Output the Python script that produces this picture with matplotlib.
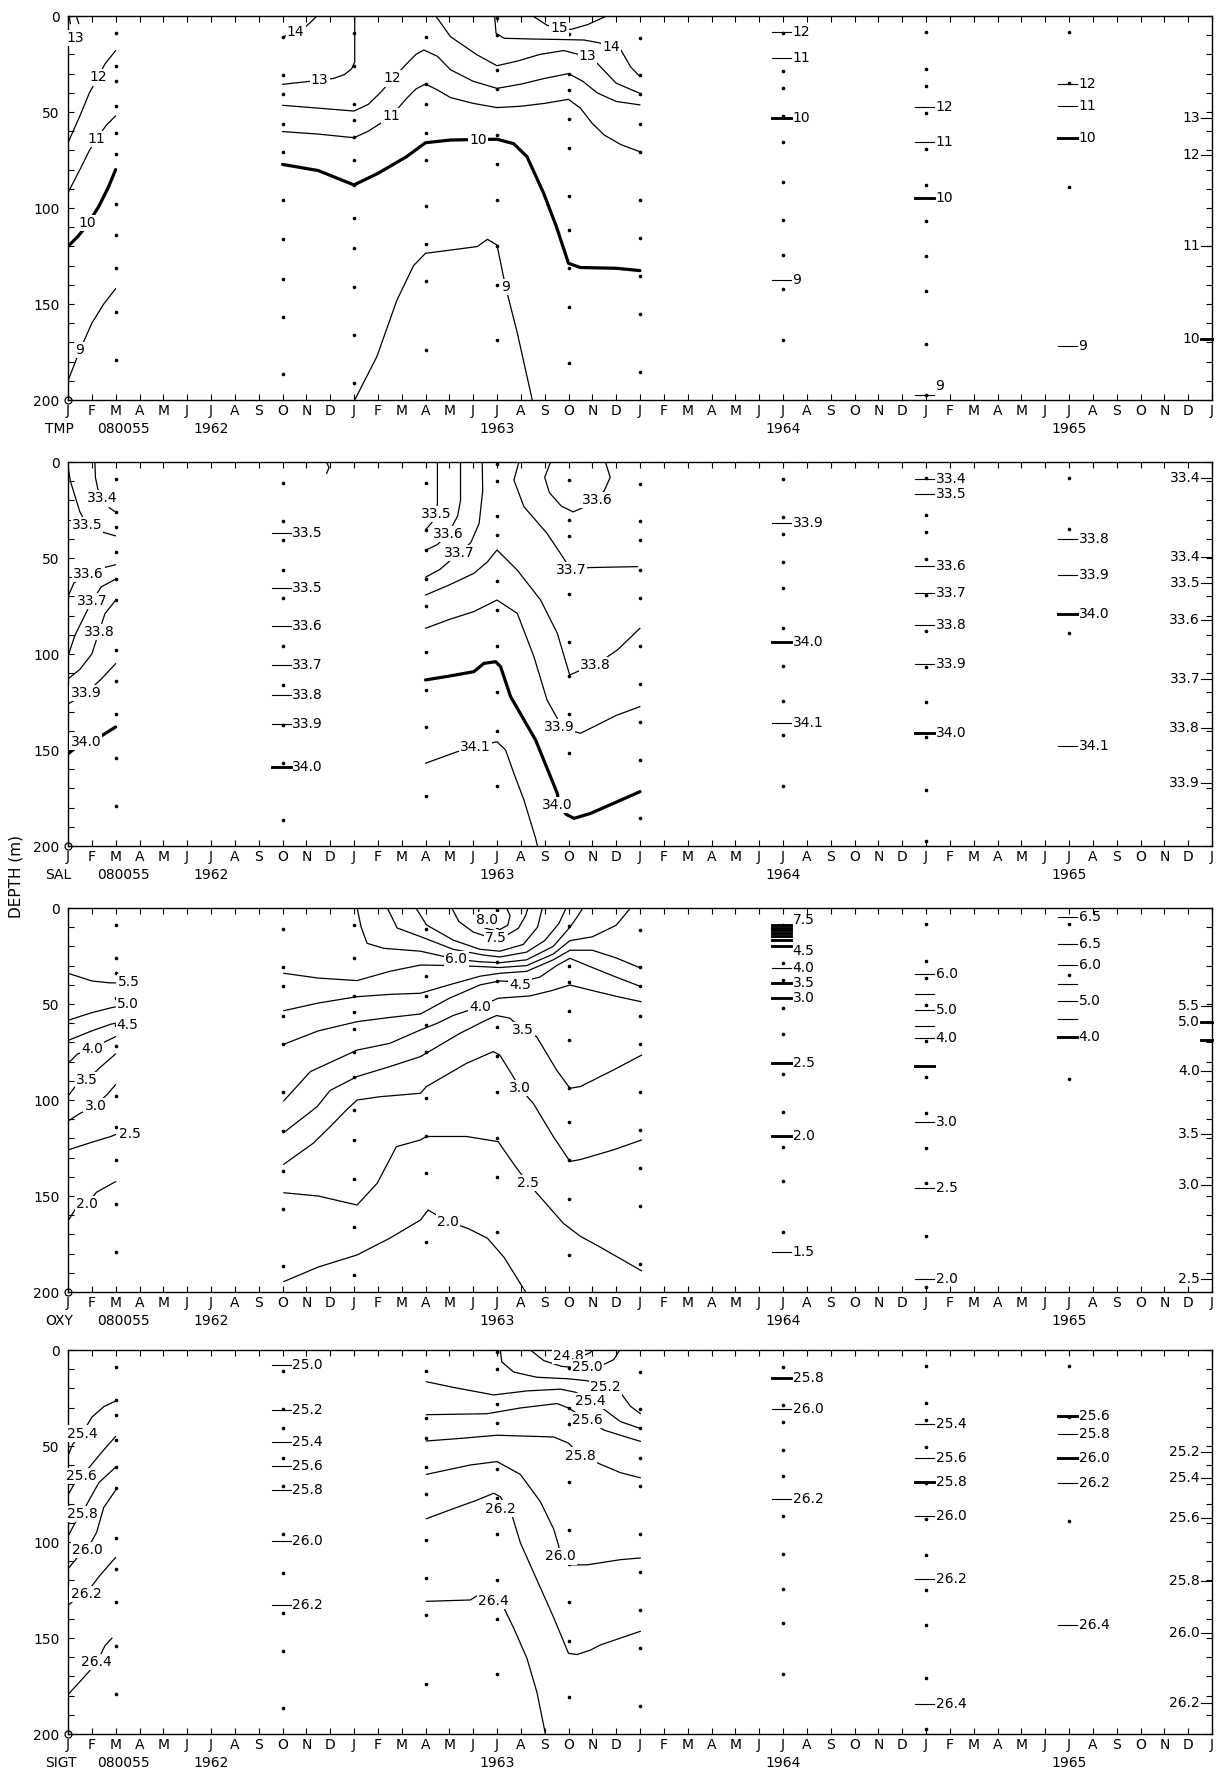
import matplotlib
matplotlib.use("Agg")
import matplotlib.pyplot as plt
from matplotlib.transforms import blended_transform_factory

plt.rcParams['font.family'] = ['DejaVu Sans']

# ---------------- axis text ----------------
MONTH_LETTERS = list("JFMAMJJASOND") * 4 + ["J"]
YEAR_LABELS = ["1962", "1963", "1964", "1965"]
YEAR_MONTHS = [6, 18, 30, 42]
PANEL_CODES = ["TMP", "SAL", "OXY", "SIGT"]
STATION_ID = "080055"
DEPTH_TICKS = [0, 50, 100, 150, 200]

# ---------------- sample points (month index, depths) ----------------
DOTS_C2 = [9, 26, 34, 47, 61, 72, 98, 114, 131, 154, 179]
DOTS_C9 = [11, 30.5, 40.7, 56, 71, 96, 116, 137, 156.6, 186.6]
DOTS_C12 = [9, 26, 46, 54, 63, 75, 88, 105, 121, 141, 166, 191]
DOTS_C15 = [10.8, 35.4, 45.8, 60.8, 75, 98.8, 118.8, 137.9, 174]
DOTS_C18 = [1, 10, 28, 38, 62, 77, 96, 120, 140, 169]
DOTS_C21 = [9.5, 30, 38.5, 53.6, 69, 94, 111.5, 131.4, 151.4, 180.6]
DOTS_C24 = [11.3, 30.7, 40.6, 56, 70.7, 95.8, 115.5, 135.4, 155.4, 185.3]
DOTS_C30 = [9, 28.5, 37.7, 52, 65.5, 86.6, 106, 124.6, 142, 169]
DOTS_C36 = [8.5, 27.6, 36.5, 50.3, 69.3, 88.2, 107, 125, 143, 171, 197.4]
DOTS_C42 = [8.2, 35, 89]

DOTS_FULL = [(2, DOTS_C2), (9, DOTS_C9), (12, DOTS_C12), (15, DOTS_C15), (18, DOTS_C18),
             (21, DOTS_C21), (24, DOTS_C24), (30, DOTS_C30), (36, DOTS_C36), (42, DOTS_C42)]
DOTS_NO_JAN63 = [c for c in DOTS_FULL if c[0] != 12]

# ---------------- TMP contour vertices (month, depth) ----------------
TMP_L14 = [(0.05, 0), (0.1, 4)]
TMP_L13 = [(0.35, 0), (0.45, 4)]
TMP_L12 = [(0, 66), (0.5, 52), (0.9, 40), (1.25, 32), (1.55, 25), (2.0, 18)]
TMP_L11 = [(0, 92), (0.5, 80), (0.9, 70), (1.2, 64), (1.6, 57), (2.0, 52)]
TMP_L10 = [(0, 120), (0.4, 115), (0.8, 109), (1.3, 99), (1.7, 89), (2.0, 80)]
TMP_L9 = [(0, 190), (0.5, 174), (1.0, 160), (1.5, 150), (2.0, 142)]
TMP_14A = [(9.0, 11), (9.5, 8.5), (9.9, 6.4), (10.2, 3), (10.45, 0)]
TMP_13A = [(9.0, 35.6), (9.8, 34.5), (10.56, 33.5), (11.15, 32.5), (11.6, 30.5),
           (11.9, 27.5), (12.03, 24), (12.03, 0)]
TMP_13B = [(15.43, 0), (16.05, 10.8), (17.17, 20.3), (18.0, 25.9), (18.85, 23.5),
           (19.8, 20), (20.8, 18), (21.8, 21.2), (22.2, 24.6), (23.0, 35), (24.0, 40.3)]
TMP_12 = [(9.0, 46.5), (10.5, 48), (12.0, 49.5), (12.6, 46), (13.1, 40), (13.6, 33),
          (14.2, 25), (14.6, 20), (14.93, 17.7), (15.5, 21), (16.05, 28), (17.0, 34),
          (18.0, 37.7), (19.0, 35.5), (20.0, 32.5), (21.0, 30), (21.6, 34), (22.2, 40),
          (23.0, 44.5), (24.0, 46.3)]
TMP_11 = [(9.0, 60.2), (10.5, 61.5), (12.0, 63.4), (12.6, 60), (13.1, 56), (13.57, 52),
          (14.2, 43), (14.6, 38), (15.0, 35.4), (15.5, 38.5), (16.05, 42.5), (17.0, 45.5),
          (18.0, 47.7), (19.0, 47), (20.0, 45.5), (21.0, 43.4), (21.5, 48), (22.0, 56),
          (22.5, 62), (23.2, 67), (24.0, 70.7)]
TMP_10 = [(9.0, 77.3), (10.5, 80.5), (12.0, 88), (13.0, 82), (14.2, 73.3), (15.0, 66),
          (16.05, 64.6), (17.2, 64.3), (18.0, 64.2), (18.7, 66.5), (19.26, 73.3),
          (19.96, 92.4), (20.5, 110), (21.0, 128.8), (21.5, 131), (23.0, 131.4), (24.0, 132.6)]
TMP_9 = [(12.03, 200), (12.96, 177.4), (13.8, 148), (14.5, 130), (15.0, 123.6), (16.05, 121.9),
         (17.17, 120.1), (17.6, 116.3), (18.0, 119.3), (18.36, 141), (18.85, 165), (19.48, 200)]
TMP_14B = [(17.9, 0), (17.96, 9), (18.3, 11.6), (19.5, 12), (20.5, 12.2), (21.65, 12.5),
           (22.3, 14), (22.8, 16), (23.2, 17.7), (23.6, 26.4), (24.0, 31.6)]
TMP_15 = [(19.5, 0), (20.1, 4.8), (20.6, 6.4), (21.1, 7), (21.8, 4.5), (22.6, 0)]

TMP_LINES = [(TMP_L14, 1), (TMP_L13, 1), (TMP_L12, 1), (TMP_L11, 1), (TMP_L10, 2), (TMP_L9, 1),
             (TMP_14A, 1), (TMP_13A, 1), (TMP_13B, 1), (TMP_12, 1), (TMP_11, 1), (TMP_10, 2),
             (TMP_9, 1), (TMP_14B, 1), (TMP_15, 1)]
TMP_LABELS = [(0.3, 11.5, "13"), (1.25, 32, "12"), (1.2, 64, "11"), (0.8, 108, "10"),
              (0.5, 174, "9"), (9.55, 8.5, "14"), (10.56, 33.5, "13"), (21.8, 21, "13"),
              (13.6, 32.5, "12"), (13.57, 52, "11"), (17.2, 64.5, "10"), (18.36, 141, "9"),
              (22.8, 16, "14"), (20.6, 6.4, "15")]
TMP_COL = [(30, 8.2, "12", 1), (30, 22, "11", 1), (30, 53.3, "10", 2), (30, 137.5, "9", 1),
           (36, 47.6, "12", 1), (36, 65.8, "11", 1), (36, 94.6, "10", 2), (36, 197.4, "", 1),
           (36, 192.5, "9", 0),
           (42, 35.6, "12", 1), (42, 46.9, "11", 1), (42, 63.7, "10", 2), (42, 171.7, "9", 1)]
TMP_RIGHT = [(53.3, "13", 1), (72.4, "12", 1), (120, "11", 1), (168.4, "10", 2)]

# ---------------- SAL contour vertices ----------------
SAL_L334 = [(1.13, 0), (1.15, 8), (1.25, 14), (1.45, 19), (1.75, 24), (2.0, 26)]
SAL_L335 = [(0.0, 2), (0.1, 10), (0.3, 18), (0.5, 26), (0.8, 33), (1.3, 36), (2.0, 38.5)]
SAL_L336 = [(0, 70), (0.25, 63), (0.85, 58.5), (1.35, 55.5), (2.0, 53.5)]
SAL_L337 = [(0, 101), (0.3, 90), (0.7, 80), (1.0, 72.5), (1.4, 65), (2.0, 61)]
SAL_L338 = [(0, 113), (0.5, 108), (1.0, 100), (1.3, 88.5), (1.55, 79), (2.0, 72)]
SAL_L339 = [(0, 126), (0.3, 124), (0.75, 120.5), (1.4, 113), (2.0, 105)]
SAL_L340 = [(0, 152), (0.4, 148), (0.75, 146), (1.1, 145), (2.0, 138)]
SAL_335 = [(15.5, 0), (15.5, 21.5), (15.45, 27), (15.3, 31), (15.0, 35.4)]
SAL_336 = [(16.47, 0), (16.47, 20), (16.35, 28), (15.95, 37.5), (15.5, 43), (15.0, 46)]
SAL_337A = [(17.38, 0), (17.4, 15), (17.25, 32), (16.9, 42), (16.4, 47.5), (15.6, 56), (15.0, 60)]
SAL_337B = [(18.92, 0), (18.71, 9.4), (19.13, 23.3), (20.1, 37.2), (20.8, 50.2), (21.1, 56.3),
            (21.86, 55), (23.0, 54.7), (23.9, 54.5)]
SAL_338 = [(15.0, 69.3), (16.0, 64), (17.03, 58), (17.6, 52), (18.0, 45.8), (18.85, 56.3),
           (19.83, 71.9), (20.53, 89.2), (21.05, 110.9), (21.6, 108), (22.14, 105.7),
           (23.05, 97.9), (24.0, 86.6)]
SAL_339 = [(15.0, 86.6), (16.0, 82), (17.03, 77.9), (18.0, 71.9), (18.85, 78.8), (19.55, 101.4),
           (20.1, 124), (20.53, 133.5), (20.6, 138.2), (21.5, 141.3), (22.2, 137), (23.0, 132),
           (24.0, 127.4)]
SAL_340 = [(15.0, 113.5), (16.0, 111.5), (17.03, 109.2), (17.45, 104.9), (17.94, 104),
           (18.15, 106.6), (18.57, 122.2), (19.62, 144.8), (20.53, 172.6), (20.6, 178.6),
           (20.9, 183.5), (21.23, 185.6), (21.93, 183), (24.0, 171.7)]
SAL_341 = [(15.0, 156.9), (16.33, 150.9), (17.1, 148.3), (18.0, 145.7), (18.36, 150),
           (18.71, 162.2), (19.13, 176), (19.62, 196), (19.7, 200)]
SAL_336B = [(20.25, 0), (20.0, 8), (20.2, 16), (20.7, 23), (21.2, 26), (22.0, 21.5),
            (22.5, 15), (22.75, 8), (22.55, 0)]
SAL_TOP = [(10.85, 0), (10.95, 3), (10.85, 6)]

SAL_LINES = [(SAL_L334, 1), (SAL_L335, 1), (SAL_L336, 1), (SAL_L337, 1), (SAL_L338, 1),
             (SAL_L339, 1), (SAL_L340, 2), (SAL_335, 1), (SAL_336, 1), (SAL_337A, 1),
             (SAL_337B, 1), (SAL_338, 1), (SAL_339, 1), (SAL_340, 2), (SAL_341, 1),
             (SAL_336B, 1), (SAL_TOP, 1)]
SAL_LABELS = [(1.45, 19, "33.4"), (0.8, 33, "33.5"), (0.85, 58.5, "33.6"), (1.0, 72.5, "33.7"),
              (1.3, 88.5, "33.8"), (0.75, 120.5, "33.9"), (0.75, 146, "34.0"),
              (15.45, 27, "33.5"), (15.95, 37.5, "33.6"), (16.4, 47.5, "33.7"),
              (21.1, 56.3, "33.7"), (22.14, 105.7, "33.8"), (20.6, 138.2, "33.9"),
              (20.53, 178.6, "34.0"), (17.1, 148.3, "34.1"), (22.2, 19.8, "33.6")]
SAL_COL = [(9, 36.8, "33.5", 1), (9, 65.5, "33.5", 1), (9, 85.4, "33.6", 1), (9, 105.7, "33.7", 1),
           (9, 121.4, "33.8", 1), (9, 136.5, "33.9", 1), (9, 158.7, "34.0", 2),
           (30, 31.6, "33.9", 1), (30, 93.6, "34.0", 2), (30, 135.8, "34.1", 1),
           (36, 9, "33.4", 1), (36, 16.7, "33.5", 1), (36, 54.2, "33.6", 1), (36, 68.4, "33.7", 1),
           (36, 84.9, "33.8", 1), (36, 105.2, "33.9", 1), (36, 141.3, "34.0", 2),
           (42, 40.3, "33.8", 1), (42, 58.9, "33.9", 1), (42, 79.2, "34.0", 2), (42, 147.9, "34.1", 1)]
SAL_RIGHT = [(8.5, "33.4", 1), (49.3, "33.4", 1), (63.2, "33.5", 1), (82.3, "33.6", 1),
             (113.2, "33.7", 1), (138.7, "33.8", 1), (167.4, "33.9", 1)]

# ---------------- OXY contour vertices ----------------
OXY_L55 = [(0, 34), (0.5, 36), (1.0, 38), (1.75, 39), (2.0, 39)]
OXY_L50 = [(0, 58.5), (0.5, 56.5), (1.0, 54.5), (1.8, 52), (2.0, 51.5)]
OXY_L45 = [(0, 69), (0.5, 66.5), (1.0, 64), (1.8, 60.5), (2.0, 60)]
OXY_L40 = [(0, 81), (0.4, 76), (1.0, 73.5), (1.5, 70), (2.0, 67)]
OXY_L35 = [(0, 98), (0.3, 93), (0.8, 89.5), (1.35, 83), (2.0, 76)]
OXY_L30 = [(0, 111), (0.5, 107), (1.15, 103), (1.65, 97), (2.0, 92)]
OXY_L25 = [(0, 126), (0.5, 124), (1.0, 122), (1.8, 119), (2.0, 118)]
OXY_L20 = [(0, 163), (0.3, 157), (0.8, 154), (1.2, 148), (2.0, 142.5)]
OXY_80 = [(17.25, 0), (17.2, 5), (17.5, 10.5), (18.0, 12), (18.45, 9), (18.55, 4), (18.4, 0)]
OXY_75 = [(16.1, 0), (16.4, 7), (17.0, 12.5), (17.6, 15), (18.3, 15), (18.9, 10.5), (19.2, 4), (19.3, 0)]
OXY_70 = [(14.6, 0), (15.04, 8.8), (16.16, 16.7), (17.28, 21.5), (18.12, 22.5), (19.1, 19),
          (19.7, 10), (19.9, 0)]
OXY_65 = [(13.4, 0), (13.81, 10.4), (14.79, 14.9), (16.16, 21.5), (17.42, 24.5), (18.12, 25.5),
          (19.24, 23), (20.0, 17), (20.6, 8), (20.9, 0)]
OXY_60 = [(12.13, 0), (12.3, 10), (12.55, 18.4), (13.25, 21), (14.79, 22.5), (16.3, 26.7),
          (17.28, 28), (18.12, 28.5), (19.24, 27), (20.36, 20), (21.06, 10), (21.4, 4), (21.6, 0)]
OXY_55 = [(9.05, 34), (10.5, 36.5), (12.13, 37.8), (13.5, 33), (14.79, 29.7), (16.3, 30),
          (17.3, 30.5), (18.12, 31), (19.24, 30), (20.36, 24), (21.06, 17), (22.0, 15),
          (23.0, 9), (23.6, 0)]
OXY_50 = [(9.05, 53.5), (10.5, 49.5), (12.13, 46.2), (13.5, 45), (14.79, 44.4), (16.0, 40),
          (17.3, 35.5), (18.12, 34), (19.24, 33), (20.36, 27), (21.06, 22), (22.0, 22),
          (23.0, 26), (24.05, 31.4)]
OXY_45 = [(9.05, 71), (10.5, 64), (12.13, 59.2), (13.5, 57), (14.79, 55.2), (16.0, 47),
          (17.3, 40), (18.12, 38), (18.96, 38.5), (19.8, 36), (20.5, 30), (21.06, 26.2),
          (22.0, 31), (23.0, 36), (24.05, 41)]
OXY_40 = [(9.05, 100.5), (10.17, 85.2), (12.13, 74), (13.5, 70.5), (14.79, 63.5), (15.5, 60),
          (16.16, 56), (17.28, 51.4), (18.05, 47), (19.38, 45.8), (20.3, 43), (21.06, 40.1),
          (22.0, 43), (23.0, 46), (24.05, 48.8)]
OXY_35 = [(9.05, 117), (10.45, 103.5), (11.0, 95), (12.13, 87.8), (13.5, 82.6), (14.79, 77.4),
          (16.44, 65.3), (17.56, 58.3), (17.98, 56), (18.54, 57.4), (19.1, 63.5), (19.66, 67),
          (20.5, 84.4), (21.06, 93.9), (21.5, 93), (22.88, 84.4), (24.07, 76.6)]
OXY_30 = [(9.05, 133.5), (10.28, 122.6), (11.0, 113.9), (11.68, 105.2), (12.13, 100),
          (13.08, 98.3), (14.79, 96.5), (15.04, 93), (16.72, 80.9), (17.84, 74.8), (18.12, 76.6),
          (18.68, 87.8), (18.96, 93.9), (19.52, 101.7), (20.36, 119), (21.06, 132), (21.5, 131),
          (22.88, 126), (24.07, 120.8)]
OXY_25 = [(9.05, 148.3), (10.5, 150), (12.13, 154.7), (12.97, 143.4), (13.78, 124.3),
          (14.79, 120.8), (15.04, 119), (16.72, 119), (18.05, 121.7), (18.68, 133), (19.3, 143.4),
          (19.8, 150.3), (20.78, 164.2), (21.5, 171), (22.3, 176.4), (24.07, 189)]
OXY_20 = [(9.05, 194.6), (10.5, 187), (12.13, 180.7), (13.5, 172), (14.79, 162.5), (15.11, 157.3),
          (15.95, 163.4), (16.8, 167), (17.6, 172), (18.3, 182), (19.1, 198), (19.2, 200)]

OXY_LINES = [(OXY_L55, 1), (OXY_L50, 1), (OXY_L45, 1), (OXY_L40, 1), (OXY_L35, 1), (OXY_L30, 1),
             (OXY_L25, 1), (OXY_L20, 1), (OXY_80, 1), (OXY_75, 1), (OXY_70, 1), (OXY_65, 1),
             (OXY_60, 1), (OXY_55, 1), (OXY_50, 1), (OXY_45, 1), (OXY_40, 1), (OXY_35, 1),
             (OXY_30, 1), (OXY_25, 1), (OXY_20, 1)]
OXY_LABELS = [(2.55, 38.5, "5.5"), (2.5, 50, "5.0"), (2.5, 61, "4.5"), (1.0, 73.5, "4.0"),
              (0.8, 89.5, "3.5"), (1.15, 103, "3.0"), (2.6, 117.7, "2.5"), (0.8, 154, "2.0"),
              (17.6, 6.2, "8.0"), (17.95, 15.8, "7.5"), (16.3, 26.7, "6.0"), (18.96, 40, "4.5"),
              (17.28, 51.4, "4.0"), (19.1, 63.5, "3.5"), (18.96, 93.9, "3.0"),
              (19.3, 143.4, "2.5"), (15.95, 163.4, "2.0")]
OXY_COL = [(30, 6.2, "7.5", 0), (30, 8.8, "", 2), (30, 10.2, "", 2), (30, 11.6, "", 2),
           (30, 13.2, "", 2), (30, 14.8, "", 2), (30, 16.6, "", 2), (30, 19.8, "", 2),
           (30, 22.4, "4.5", 0), (30, 31.1, "4.0", 1), (30, 39.2, "3.5", 2), (30, 47, "3.0", 2),
           (30, 80.5, "2.5", 2), (30, 119, "2.0", 2), (30, 179.3, "1.5", 1),
           (36, 34.4, "6.0", 1), (36, 45, "", 1), (36, 53.1, "5.0", 1), (36, 61.3, "", 1),
           (36, 67.9, "4.0", 1), (36, 82.1, "", 2), (36, 111.3, "3.0", 1), (36, 146, "2.5", 1),
           (36, 193.4, "2.0", 1),
           (42, 4.5, "6.5", 1), (42, 18.7, "6.5", 1), (42, 29.7, "6.0", 1), (42, 39.7, "", 1),
           (42, 48.2, "5.0", 1), (42, 58, "", 1), (42, 67, "4.0", 2)]
OXY_RIGHT = [(51, "5.5", 1), (59.2, "5.0", 2), (68.7, "", 2), (84.7, "4.0", 1),
             (117.7, "3.5", 1), (144.3, "3.0", 1), (193.4, "2.5", 1)]

# ---------------- SIGT contour vertices ----------------
SIG_L254 = [(0, 55), (0.2, 49), (0.6, 43.5), (1.0, 35), (1.5, 29.5), (2.0, 26.6)]
SIG_L256 = [(0, 75.5), (0.25, 70), (0.55, 65.7), (0.9, 61), (1.5, 52), (2.0, 45)]
SIG_L258 = [(0, 97), (0.3, 90), (0.6, 85), (0.85, 79), (1.3, 69), (2.0, 61)]
SIG_L260 = [(0, 114), (0.4, 108), (0.8, 104), (1.2, 95), (1.5, 82), (2.0, 73)]
SIG_L262 = [(0, 133), (0.3, 130), (0.75, 127), (1.3, 118), (2.0, 108)]
SIG_L264 = [(0, 179.5), (0.7, 170), (1.2, 163), (1.55, 154), (1.85, 150)]
SIG_248 = [(20.3, 0), (20.6, 3), (21.0, 3.8), (21.5, 3.5), (21.9, 1.5), (22.0, 0)]
SIG_250 = [(19.4, 0), (19.96, 5.5), (20.7, 8.5), (21.3, 9.2), (21.8, 9), (22.4, 8), (22.9, 5), (23.15, 0)]
SIG_252 = [(18.14, 0), (18.2, 6.2), (18.7, 11.5), (19.68, 14.2), (21.0, 15), (21.78, 16),
           (22.55, 19.5), (23.18, 22.2), (23.6, 29.3), (24.02, 33.2)]
SIG_254 = [(15.03, 16.5), (16.18, 19.5), (17.86, 23.4), (19.26, 21.3), (20.66, 20.4), (21.3, 22),
           (21.92, 26.6), (22.5, 31), (23.18, 37.3), (24.02, 40.9)]
SIG_256 = [(15.03, 33.7), (17.58, 33.2), (18.98, 30.2), (20.52, 27.9), (21.0, 30.2), (21.78, 36.4),
           (22.49, 41.7), (23.18, 44.4), (24.02, 47.6)]
SIG_258 = [(15.03, 47.4), (16.5, 46), (18.0, 44.4), (20.38, 45.3), (21.0, 48.5), (21.5, 55),
           (22.34, 59.5), (23.18, 63.9), (24.02, 66.6)]
SIG_260 = [(15.03, 64.8), (16.88, 59.9), (18.0, 58.1), (18.98, 64.8), (19.82, 79), (20.38, 93.3),
           (20.59, 102.1), (20.66, 107.5), (21.0, 111.9), (21.78, 111.9), (23.18, 109.2), (24.02, 108.3)]
SIG_262 = [(15.03, 87.9), (16.18, 82.6), (17.16, 78.2), (17.86, 74.6), (18.14, 76.4), (18.4, 82),
           (18.63, 86.1), (18.98, 100.4), (19.68, 119.9), (20.38, 139.4), (21.0, 158), (21.36, 158.6),
           (21.92, 156.3), (22.34, 153.6), (24.02, 146.5)]
SIG_264 = [(15.03, 130.9), (16.88, 130.2), (17.3, 127), (17.86, 130.6), (18.28, 134.1), (18.7, 144.8),
           (19.26, 160.7), (19.68, 178.5), (20.03, 200)]

SIG_LINES = [(SIG_L254, 1), (SIG_L256, 1), (SIG_L258, 1), (SIG_L260, 1), (SIG_L262, 1),
             (SIG_L264, 1), (SIG_248, 1), (SIG_250, 1), (SIG_252, 1), (SIG_254, 1), (SIG_256, 1),
             (SIG_258, 1), (SIG_260, 1), (SIG_262, 1), (SIG_264, 1)]
SIG_LABELS = [(0.6, 43.5, "25.4"), (0.55, 65.7, "25.6"), (0.6, 85.3, "25.8"), (0.8, 104, "26.0"),
              (0.75, 127, "26.2"), (1.2, 162.5, "26.4"), (21.0, 3.2, "24.8"), (21.8, 8.9, "25.0"),
              (22.55, 19.5, "25.2"), (21.92, 26.6, "25.4"), (21.78, 36.4, "25.6"),
              (21.5, 55, "25.8"), (20.66, 107.5, "26.0"), (18.14, 82.6, "26.2"), (17.86, 130.6, "26.4")]
SIG_COL = [(9, 8, "25.0", 1), (9, 31, "25.2", 1), (9, 48, "25.4", 1), (9, 60.5, "25.6", 1),
           (9, 73, "25.8", 1), (9, 99.5, "26.0", 1), (9, 133, "26.2", 1),
           (30, 14.5, "25.8", 2), (30, 30.5, "26.0", 1), (30, 77.8, "26.2", 1),
           (36, 38.5, "25.4", 1), (36, 56, "25.6", 1), (36, 69, "25.8", 2), (36, 86.5, "26.0", 1),
           (36, 119.4, "26.2", 1), (36, 184.2, "26.4", 1),
           (42, 34.5, "25.6", 2), (42, 44, "25.8", 1), (42, 56, "26.0", 2), (42, 69.5, "26.2", 1),
           (42, 143.3, "26.4", 1)]
SIG_RIGHT = [(53.3, "25.2", 1), (66.6, "25.4", 1), (87.6, "25.6", 1), (120.2, "25.8", 1),
             (147.4, "26.0", 1), (183.8, "26.2", 1)]

PANELS = [
    ("TMP", TMP_LINES, TMP_LABELS, TMP_COL, TMP_RIGHT, DOTS_FULL),
    ("SAL", SAL_LINES, SAL_LABELS, SAL_COL, SAL_RIGHT, DOTS_NO_JAN63),
    ("OXY", OXY_LINES, OXY_LABELS, OXY_COL, OXY_RIGHT, DOTS_FULL),
    ("SIGT", SIG_LINES, SIG_LABELS, SIG_COL, SIG_RIGHT, DOTS_NO_JAN63),
]

# ---------------- figure ----------------
W, H = 1218, 1771
fig = plt.figure(figsize=(W / 100, H / 100), dpi=100)
LEFT_PX, RIGHT_PX = 68, 1212
TOPS_PX = [16, 462, 908, 1350]
PANEL_H_PX = 384
FS = 10
LW = {1: 0.9, 2: 2.3}


def draw_panel(ax, code, lines, labels, col_labels, right_labels, dots):
    for verts, w in lines:
        ax.plot([v[0] for v in verts], [v[1] for v in verts], color="k", lw=LW[w],
                solid_joinstyle="round", solid_capstyle="round", zorder=2)
    for m, ds in dots:
        ax.plot([m] * len(ds), ds, linestyle="none", marker="o", ms=1.6, color="k", zorder=3)
    for m, d, t in labels:
        ax.text(m, d, t, ha="center", va="center", fontsize=FS, zorder=5,
                bbox=dict(boxstyle="square,pad=0.08", fc="white", ec="none"))
    for m, d, t, w in col_labels:
        if w:
            ax.plot([m - 0.45, m + 0.35], [d, d], color="k", lw=LW[w] * 0.9, zorder=2)
        if t:
            ax.text(m + 0.4, d, t, ha="left", va="center", fontsize=FS, zorder=5)
    for d, t, w in right_labels:
        ax.plot([47.55, 48.0], [d, d], color="k", lw=LW[w] * 0.9, zorder=2, clip_on=False)
        if t:
            ax.text(47.5, d, t, ha="right", va="center", fontsize=FS, zorder=5)

    ax.set_xlim(0, 48)
    ax.set_ylim(200, 0)
    ax.set_xticks(range(49))
    ax.set_xticklabels(MONTH_LETTERS, fontsize=FS)
    ax.set_yticks(DEPTH_TICKS)
    ax.set_yticklabels([str(v) for v in DEPTH_TICKS], fontsize=FS)
    ax.set_yticks(range(0, 201, 10), minor=True)
    ax.tick_params(axis="both", which="both", direction="in", top=True, right=True,
                   length=4, width=0.8)
    ax.tick_params(axis="x", pad=3)
    ax.tick_params(axis="y", pad=6)
    for s in ax.spines.values():
        s.set_linewidth(1.0)
    ax.plot([0], [200], marker="o", ms=5, mfc="none", mec="k", mew=0.9, clip_on=False, zorder=6)

    tr = blended_transform_factory(ax.transData, ax.transAxes)
    yrow = -29 / PANEL_H_PX
    ax.text(-0.97, yrow, code, transform=tr, ha="left", va="center", fontsize=FS, clip_on=False)
    ax.text(1.22, yrow, STATION_ID, transform=tr, ha="left", va="center", fontsize=FS, clip_on=False)
    for m, yl in zip(YEAR_MONTHS, YEAR_LABELS):
        ax.text(m, yrow, yl, transform=tr, ha="center", va="center", fontsize=FS, clip_on=False)


for top, panel in zip(TOPS_PX, PANELS):
    rect = [LEFT_PX / W, 1 - (top + PANEL_H_PX) / H, (RIGHT_PX - LEFT_PX) / W, PANEL_H_PX / H]
    ax = fig.add_axes(rect)
    draw_panel(ax, *panel)

fig.text(16 / W, 1 - 876 / H, "DEPTH (m)", rotation=90, ha="center", va="center", fontsize=11)

fig.savefig("out.png", dpi=100, facecolor="white")
